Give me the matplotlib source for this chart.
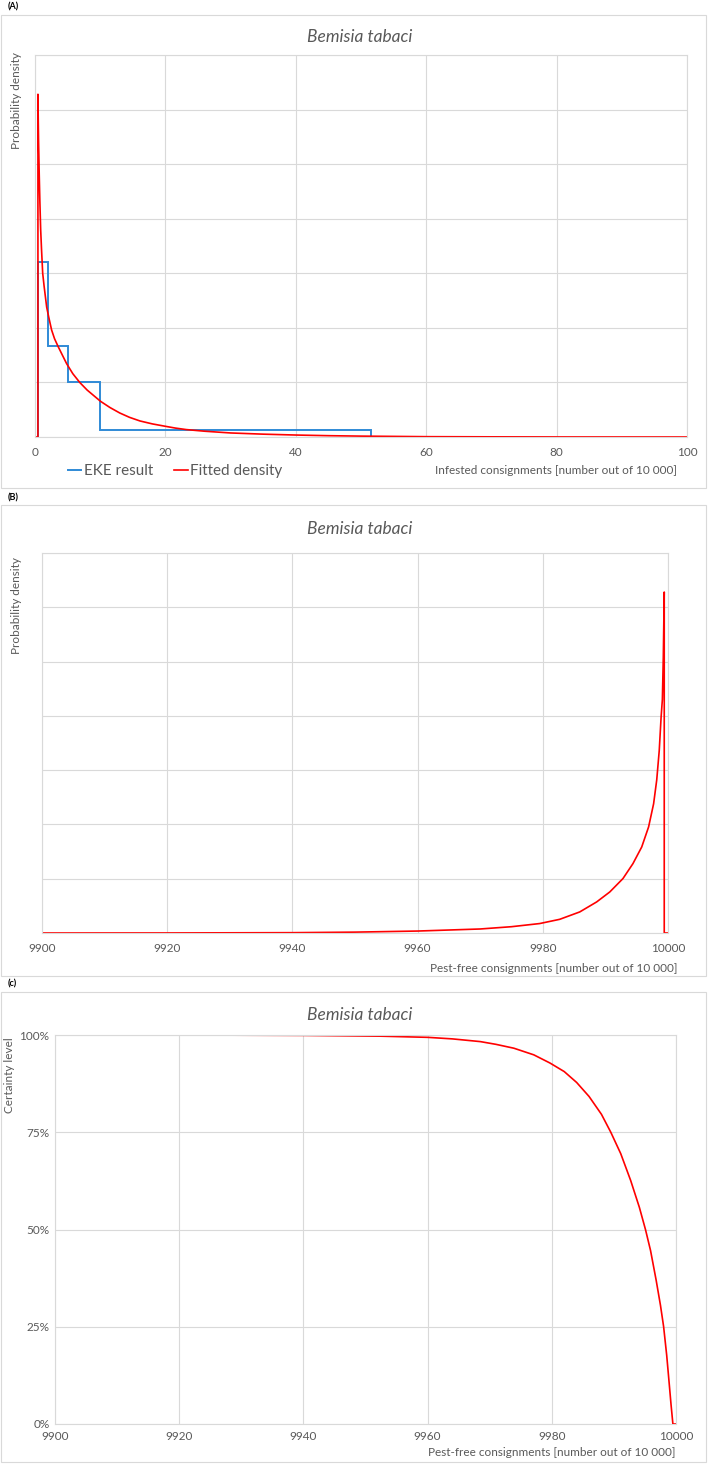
import matplotlib
matplotlib.use("Agg")
import matplotlib.pyplot as plt
from matplotlib.patches import Rectangle
import numpy as np

plt.rcParams['font.family'] = ['Lato', 'DejaVu Sans']

W, H = 709, 1464

# EKE result (infested consignments, number out of 10 000)
eke_edges = [0.5, 2.0, 5.0, 10.0, 51.5]
eke_density = [0.160, 0.083, 0.050, 0.006]

# Fitted density
fit_x = [0, 0.45, 0.45, 0.5, 0.55, 0.6, 0.65, 0.75, 0.87, 1.0, 1.18, 1.4, 1.79, 2.1, 2.55, 3.0,
         3.57, 4.2, 4.85, 5.8, 6.89, 8.0, 10.05, 11.5, 13.0, 14.5, 16.1, 18.0, 20.0, 21.5, 23.2,
         26, 30, 35, 40, 45, 50, 60, 70, 80, 100]
fit_y = [0, 0, 0.314, 0.290, 0.270, 0.255, 0.240, 0.215, 0.190, 0.172, 0.150, 0.138, 0.119,
         0.110, 0.098, 0.090, 0.0826, 0.075, 0.0672, 0.058, 0.0498, 0.043, 0.0327, 0.027,
         0.0220, 0.018, 0.0147, 0.012, 0.0098, 0.0082, 0.0068, 0.0053, 0.0037, 0.0026,
         0.0018, 0.0012, 0.0008, 0.0003, 0.00015, 0.00005, 0]

# Fitted density, pest-free consignments
pf_x = [9900, 9920, 9940, 9950, 9960, 9970, 9975, 9979.5, 9982.7, 9985.9, 9988.6, 9990.7,
        9992.8, 9994.4, 9995.8, 9996.9, 9997.7, 9998.2, 9998.6, 9998.9, 9999.1, 9999.25,
        9999.4, 9999.4, 10000]
pf_y = [0, 0.00005, 0.0003, 0.0008, 0.0018, 0.0037, 0.0058, 0.0087, 0.0126, 0.0194, 0.0286,
        0.0378, 0.0501, 0.0639, 0.0792, 0.0977, 0.119, 0.141, 0.168, 0.199, 0.215, 0.254,
        0.314, 0, 0]

# Certainty level
cert_x = [9900, 9920, 9940, 9952.4, 9960, 9964, 9968.5, 9971, 9973.9, 9977.1, 9979.7, 9982.0,
          9984.0, 9986.0, 9988.0, 9989.5, 9991.1, 9992.7, 9994.1, 9995.1, 9995.9, 9996.8,
          9997.5, 9998.0, 9998.5, 9998.9, 9999.2, 9999.5, 10000]
cert_y = [100, 100, 99.9, 99.7, 99.4, 99.0, 98.3, 97.6, 96.6, 94.9, 92.8, 90.6, 87.8, 84.2,
          79.6, 75.0, 69.5, 62.6, 55.7, 49.9, 44.6, 37.0, 30.5, 25.1, 17.7, 10.5, 5.0, 0, 0]

species = 'Bemisia tabaci'
grey = '#595959'
gridc = '#d9d9d9'
red = '#ff0000'
blue = '#2f8ad6'

fig = plt.figure(figsize=(W / 100, H / 100), dpi=100)


def px_axes(left, top, right, bottom):
    return fig.add_axes([left / W, 1 - bottom / H, (right - left) / W, (bottom - top) / H])


def frame(top, bottom):
    fig.patches.append(Rectangle((1 / W, 1 - bottom / H), 705 / W, (bottom - top) / H,
                                 transform=fig.transFigure, fill=False,
                                 edgecolor=gridc, linewidth=0.8))


def ftext(x, y, s, **kw):
    kw.setdefault('color', grey)
    fig.text(x / W, 1 - y / H, s, **kw)


def style(ax):
    for sp in ax.spines.values():
        sp.set_color(gridc)
        sp.set_linewidth(0.8)
    ax.grid(True, color=gridc, linewidth=0.8)
    ax.set_axisbelow(True)
    ax.tick_params(length=0, labelsize=8.5, labelcolor=grey, pad=7)


# ---- panel (A)
frame(15, 488)
ftext(8, 7, '(A)', fontsize=6.5, fontweight='bold', color='black', va='center')
ftext(360, 37, species, fontsize=12.5, style='italic', ha='center', va='center')
ax1 = px_axes(35, 55, 687, 437)
style(ax1)
l1 = ax1.stairs(eke_density, eke_edges, baseline=0, color=blue, linewidth=1.4, label='EKE result')
l2, = ax1.plot(fit_x, fit_y, color=red, linewidth=1.2, label='Fitted density')
ax1.set_xlim(0, 100)
ax1.set_ylim(0, 0.35)
ax1.set_xticks(range(0, 101, 20))
ax1.set_yticks(np.arange(0, 0.351, 0.05))
ax1.set_yticklabels([])
ftext(17, 52, 'Probability density', fontsize=8.5, rotation=90, ha='center', va='top')
ftext(677, 471, 'Infested consignments [number out of 10 000]', fontsize=8.5, ha='right', va='center')
leg = ax1.legend(handles=[l1, l2], loc='center left', bbox_to_anchor=(60 / W, 1 - 471 / H),
                 bbox_transform=fig.transFigure, ncol=2, frameon=False, fontsize=11,
                 handlelength=0.9, handletextpad=0.15, columnspacing=1.4, borderpad=0)
for t in leg.get_texts():
    t.set_color(grey)

# ---- panel (B)
frame(505, 976)
ftext(8, 498, '(B)', fontsize=6.5, fontweight='bold', color='black', va='center')
ftext(360, 529, species, fontsize=12.5, style='italic', ha='center', va='center')
ax2 = px_axes(42, 553, 668, 933)
style(ax2)
ax2.plot(pf_x, pf_y, color=red, linewidth=1.2)
ax2.set_xlim(9900, 10000)
ax2.set_ylim(0, 0.35)
ax2.set_xticks(range(9900, 10001, 20))
ax2.set_yticks(np.arange(0, 0.351, 0.05))
ax2.set_yticklabels([])
ftext(17, 557, 'Probability density', fontsize=8.5, rotation=90, ha='center', va='top')
ftext(677, 968, 'Pest-free consignments [number out of 10 000]', fontsize=8.5, ha='right', va='center')

# ---- panel (C)
frame(992, 1462)
ftext(8, 984, '(c)', fontsize=6.5, fontweight='bold', color='black', va='center')
ftext(360, 1015, species, fontsize=12.5, style='italic', ha='center', va='center')
ax3 = px_axes(55, 1035, 676, 1424)
style(ax3)
ax3.plot(cert_x, cert_y, color=red, linewidth=1.2)
ax3.set_xlim(9900, 10000)
ax3.set_ylim(0, 100)
ax3.set_xticks(range(9900, 10001, 20))
ax3.set_yticks([0, 25, 50, 75, 100])
ax3.set_yticklabels([f'{v}%' for v in [0, 25, 50, 75, 100]])
ax3.tick_params(axis='x', pad=5)
ax3.tick_params(axis='y', pad=4)
ftext(10, 1037, 'Certainty level', fontsize=8.5, rotation=90, ha='center', va='top')
ftext(676, 1452, 'Pest-free consignments [number out of 10 000]', fontsize=8.5, ha='right', va='center')

fig.savefig('out.png', dpi=100)
